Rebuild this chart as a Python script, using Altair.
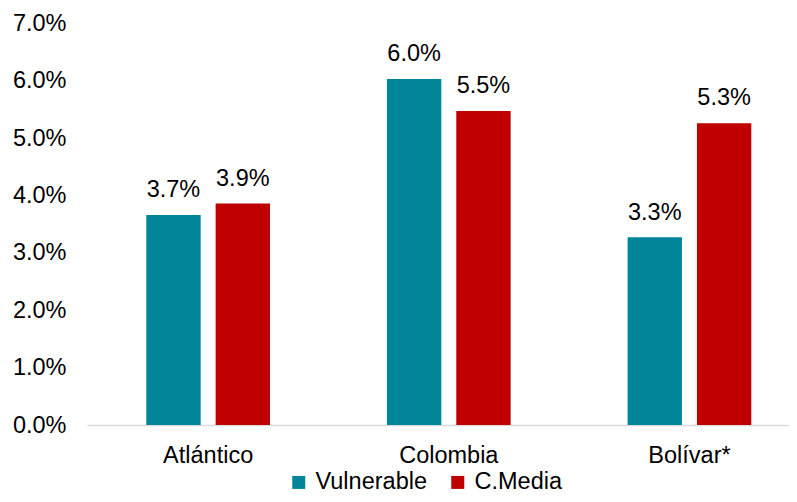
import altair as alt
import pandas as pd

regions = ["Atlántico", "Colombia", "Bolívar*"]
series = ["Vulnerable", "C.Media"]
vulnerable = [0.0366, 0.0603, 0.0327]
cmedia = [0.0386, 0.0547, 0.0526]
y_ticks = [0.0, 0.01, 0.02, 0.03, 0.04, 0.05, 0.06, 0.07]
colors = ["#008599", "#C00000"]

rows = []
for r, v, c in zip(regions, vulnerable, cmedia):
    rows.append({"region": r, "serie": series[0], "valor": v})
    rows.append({"region": r, "serie": series[1], "valor": c})
df = pd.DataFrame(rows)

FONT = "Liberation Sans"
FS = 23.5

x = alt.X("region:N", sort=regions, title=None,
          scale=alt.Scale(range=[0, 723.6], paddingInner=0.486, paddingOuter=0.2464),
          axis=alt.Axis(labelAngle=0, ticks=False, tickSize=0, domainColor="#D9D9D9",
                        domainWidth=1.5, labelBaseline="alphabetic", labelPadding=37,
                        labelFont=FONT, labelFontSize=FS, labelColor="#000000", grid=False))
xo = alt.XOffset("serie:N", sort=series,
                 scale=alt.Scale(paddingInner=0.216, paddingOuter=0))
y = alt.Y("valor:Q", title=None,
          scale=alt.Scale(domain=[0, 0.07], nice=False),
          axis=alt.Axis(values=y_ticks, format=".1%", domain=False, ticks=False, tickSize=0,
                        grid=False, labelPadding=21, labelFont=FONT, labelFontSize=FS,
                        labelColor="#000000"))
color = alt.Color("serie:N", sort=series,
                  scale=alt.Scale(domain=series, range=colors),
                  legend=alt.Legend(title=None, orient="none", legendX=200, legendY=447,
                                    direction="horizontal", symbolType="square",
                                    symbolSize=169, symbolStrokeWidth=0, labelFont=FONT,
                                    labelFontSize=FS, labelColor="#000000", columnPadding=19,
                                    labelOffset=5, padding=0))

base = alt.Chart(df)
bars = base.mark_bar().encode(x=x, xOffset=xo, y=y, color=color)
labels = base.mark_text(baseline="alphabetic", dy=-17.7, font=FONT, fontSize=FS,
                        color="#000000").encode(
    x=x, xOffset=xo, y=y, text=alt.Text("valor:Q", format=".1%"))

chart = (bars + labels).properties(
    width=702, height=401.7,
    autosize=alt.AutoSizeParams(type="none"),
    padding={"left": 79, "top": 15.3, "right": 0, "bottom": 69},
).configure(background="white", view=alt.ViewConfig(stroke=None))

chart.save("out.html", embed_options={"renderer": "svg", "actions": False})
